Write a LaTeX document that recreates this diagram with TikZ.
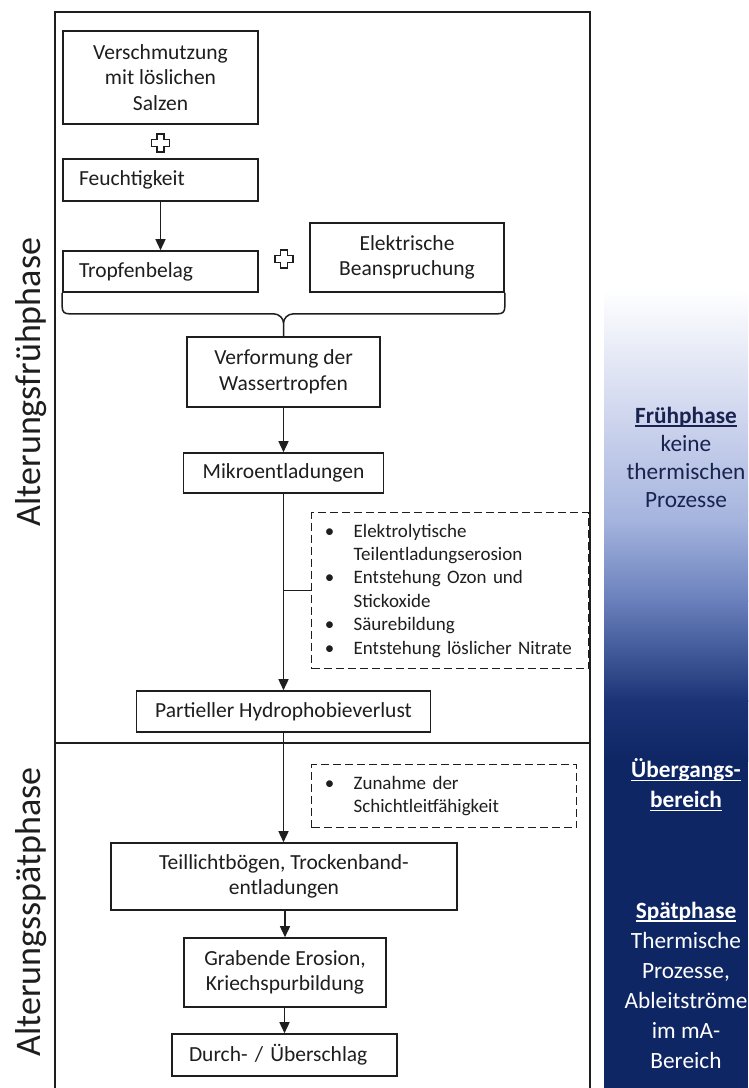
\documentclass[tikz,border=0pt]{standalone}
\usepackage{fontspec}
\setmainfont{Carlito}
\usetikzlibrary{arrows.meta,calc}

% font size helper and a thick underline for the side headings
\newcommand\fsz[2]{\fontsize{#1pt}{#2pt}\selectfont}
\newcommand\ulbar[1]{\setbox0\hbox{#1}\rlap{\raisebox{-3.8pt}{\rule{\wd0}{1.6pt}}}\box0}
% bullet items
\newcommand\bul{\makebox[36pt]{\textbullet}\hspace{6pt}}
\newcommand\cont{\hspace*{42pt}}

\definecolor{ink}{RGB}{30,30,30}
\definecolor{navy}{RGB}{14,38,100}
\definecolor{shA}{RGB}{205,212,237}
\definecolor{shB}{RGB}{165,180,222}
\definecolor{shC}{RGB}{105,128,188}
\definecolor{shD}{RGB}{28,52,118}
\definecolor{earlytext}{RGB}{25,35,80}

\tikzset{
  box/.style={draw=ink, line width=1.6pt, inner sep=0pt, font=\fsz{21.5}{25.5}, align=center, text=ink},
  dbox/.style={draw=ink, line width=1.3pt, dash pattern=on 8pt off 4pt, inner sep=0pt,
               font=\fsz{19}{23.4}, align=left, text=ink},
  arr/.style={draw=ink, line width=1.5pt, -{Triangle[width=10pt,length=11pt]}},
  link/.style={draw=ink, line width=1.5pt},
  frame/.style={draw=ink, line width=1.5pt},
  side/.style={font=\fsz{36}{42}, rotate=90, anchor=base, text=ink},
  note/.style={align=center},
  pics/plussign/.style={code={
    \draw[ink, line width=1.2pt] (-3.5,-9) -- (3.5,-9) -- (3.5,-3.5) -- (9,-3.5) -- (9,3.5)
      -- (3.5,3.5) -- (3.5,9) -- (-3.5,9) -- (-3.5,3.5) -- (-9,3.5) -- (-9,-3.5)
      -- (-3.5,-3.5) -- cycle;}}
}

\begin{document}
\begin{tikzpicture}[x=1pt,y=1pt]
\useasboundingbox (0,0) rectangle (748,-1088);
\fill[white] (0,0) rectangle (748,-1088);

% outer frame with the phase divider
\draw[frame] (55,-1092) -- (55,-12) -- (590,-12) -- (590,-1092);
\draw[frame] (55,-743) -- (590,-743);

% side labels
\node[side] (early) at (41,-382) {Alterungsfrühphase};
\node[side] (late) at (41,-912) {Alterungsspätphase};

% early phase
\node[box, minimum width=195pt, minimum height=93pt] (n1) at (160.5,-77.5) {Verschmutzung\\mit löslichen\\Salzen};
\pic at (160.5,-143) {plussign};
\node[box, minimum width=195pt, minimum height=42pt, text width=163pt, inner xsep=16pt, align=left] (n2) at (160.5,-180) {Feuchtigkeit};
\node[box, minimum width=195pt, minimum height=41pt, text width=163pt, inner xsep=16pt, align=left] (n3) at (160.5,-271.5) {Tropfenbelag};
\pic at (284,-259) {plussign};
\node[box, minimum width=194pt, minimum height=69pt] (n4) at (407,-257.5) {Elektrische\\Beanspruchung};
\node[box, minimum width=193pt, minimum height=70pt] (n5) at (283.5,-372) {Verformung der\\Wassertropfen};
\node[box, minimum width=200pt, minimum height=40pt] (n6) at (283.5,-473) {Mikroentladungen};
\node[dbox, minimum width=277pt, minimum height=156pt, text width=277pt, anchor=north west] (d1) at (311,-512)
  {\bul Elektrolytische\\\cont Teilentladungserosion\\\bul Entstehung Ozon und\\\cont Stickoxide\\\bul Säurebildung\\\bul Entstehung löslicher Nitrate};
\node[box, minimum width=294pt, minimum height=41pt] (n7) at (283.5,-711.5) {Partieller Hydrophobieverlust};

% late phase
\node[dbox, minimum width=265pt, minimum height=63pt, text width=265pt, anchor=north west] (d2) at (311,-764)
  {\bul Zunahme der\\\cont Schichtleitfähigkeit};
\node[box, minimum width=346pt, minimum height=67pt] (n8) at (284,-876.5) {Teillichtbögen, Trockenband-\\entladungen};
\node[box, minimum width=202pt, minimum height=69pt] (n9) at (285,-972.5) {Grabende Erosion,\\Kriechspurbildung};
\node[box, minimum width=225pt, minimum height=42pt, text width=191pt, inner xsep=17pt, align=left] (n10) at (284.5,-1055) {Durch- / Überschlag};

% connectors
\draw[arr] (n2.south) -- (n3.north);
\draw[link] (n3.south west) -- ++(0,-14) .. controls ++(0,-5) and ++(-5,0) .. ++(7,-7) coordinate (bl)
  -- ($(n5.north |- bl)+(-10,0)$) .. controls ++(6,0) and ++(0,4) .. ($(n5.north |- bl)+(0,-9)$) coordinate (tip)
  -- (n5.north);
\draw[link] (n4.south east) -- ++(0,-14) .. controls ++(0,-5) and ++(5,0) .. ++(-7,-7)
  -- ($(n5.north |- bl)+(10,0)$) .. controls ++(-6,0) and ++(0,4) .. (tip);
\draw[arr] (n5.south) -- (n5.south |- n6.north);
\draw[arr] (n6.south) -- (n6.south |- n7.north);
\draw[link] (n6.south |- d1.west) -- (d1.west);
\draw[arr] (n7.south) -- (n7.south |- n8.north);
\draw[arr] (n8.south -| n9.north) -- (n9.north);
\draw[arr] (n9.south -| n10.north) -- (n10.north);

% right-hand scale bar
\shade[top color=white, bottom color=shA] (604,-290) rectangle (748,-421);
\shade[top color=shA, bottom color=shB] (604,-420) rectangle (748,-521);
\shade[top color=shB, bottom color=shC] (604,-520) rectangle (748,-601);
\shade[top color=shC, bottom color=shD] (604,-600) rectangle (748,-701);
\shade[top color=shD, bottom color=navy] (604,-700) rectangle (748,-761);
\fill[navy] (604,-760) rectangle (748,-1088);

\node[note, text=earlytext, font=\fsz{23.3}{28}] (s1) at (686,-457)
  {\ulbar{\bfseries Frühphase}\\keine\\thermischen\\Prozesse};
\node[note, text=white, font=\fsz{23.3}{30}] (s2) at (686,-785)
  {\ulbar{\bfseries Übergangs-}\\\ulbar{\bfseries bereich}};
\node[note, text=white, font=\fsz{23.3}{30}] (s3) at (686,-985)
  {\ulbar{\bfseries Spätphase}\\Thermische\\Prozesse,\\Ableitströme\\im mA-\\Bereich};
\end{tikzpicture}
\end{document}
